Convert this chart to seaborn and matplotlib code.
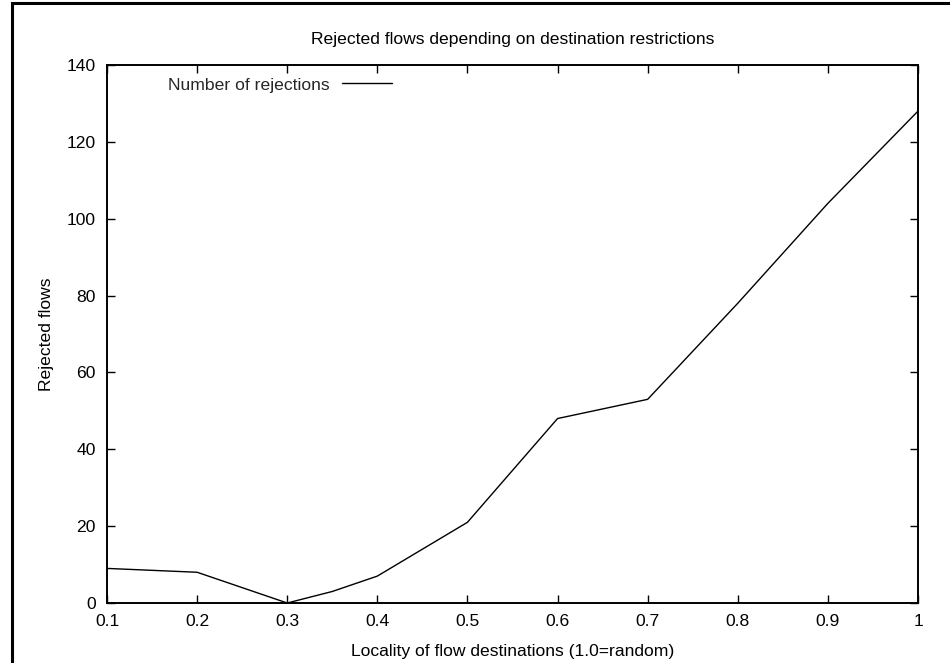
import matplotlib
matplotlib.use("Agg")
import matplotlib.pyplot as plt
import seaborn as sns
import pandas as pd
from matplotlib.patches import Rectangle

# Locality factor of flow destinations and resulting rejected flows
locality = [0.1, 0.2, 0.3, 0.35, 0.4, 0.5, 0.6, 0.7, 0.8, 0.9, 1.0]
rejections = [9, 8, 0, 3, 7, 21, 48, 53, 78, 104, 128]

x_ticks = [0.1, 0.2, 0.3, 0.4, 0.5, 0.6, 0.7, 0.8, 0.9, 1.0]
x_tick_labels = ["0.1", "0.2", "0.3", "0.4", "0.5", "0.6", "0.7", "0.8", "0.9", "1"]
y_ticks = [0, 20, 40, 60, 80, 100, 120, 140]

sns.set_theme(style="white")
plt.rcParams["font.family"] = ["Liberation Sans", "DejaVu Sans"]

FS = 12.6

df = pd.DataFrame({"locality": locality, "rejections": rejections})

fig = plt.figure(figsize=(9.5, 6.63), dpi=100)
W, H = 950, 663
ax = fig.add_axes([107 / W, 1 - 603 / H, (918 - 107) / W, (603 - 65) / H])

sns.lineplot(data=df, x="locality", y="rejections", ax=ax, color="black",
             linewidth=1.0, label="Number of rejections")

ax.set_xlim(0.1, 1.0)
ax.set_ylim(0, 140)
ax.set_xticks(x_ticks)
ax.set_xticklabels(x_tick_labels)
ax.set_yticks(y_ticks)

ax.tick_params(axis="both", direction="in", length=6, width=1.0, color="black",
               labelsize=FS, labelcolor="black", top=True, right=True,
               bottom=True, left=True)
ax.tick_params(axis="x", pad=8)
ax.tick_params(axis="y", pad=8)
for s in ax.spines.values():
    s.set_visible(True)
    s.set_color("black")
    s.set_linewidth(1.4)

ax.set_title("Rejected flows depending on destination restrictions",
             fontsize=FS, pad=15, color="black")
ax.set_xlabel("Locality of flow destinations (1.0=random)", fontsize=FS,
              labelpad=11, color="black")
ax.set_ylabel("Rejected flows", fontsize=FS, labelpad=9, color="black")

leg = ax.legend(loc="upper left", bbox_to_anchor=((168 - 107) / 811, 0.977),
                frameon=False, markerfirst=False, handlelength=2.86,
                handletextpad=0.69, fontsize=FS, borderaxespad=0,
                borderpad=0)

# Outer page frame
fig.patches.append(Rectangle((11.5 / W, -0.05), 1.2, 1 - 3 / H + 0.05,
                             transform=fig.transFigure, fill=False,
                             edgecolor="black", linewidth=2.2))

fig.savefig("out.png", dpi=100, facecolor="white")
